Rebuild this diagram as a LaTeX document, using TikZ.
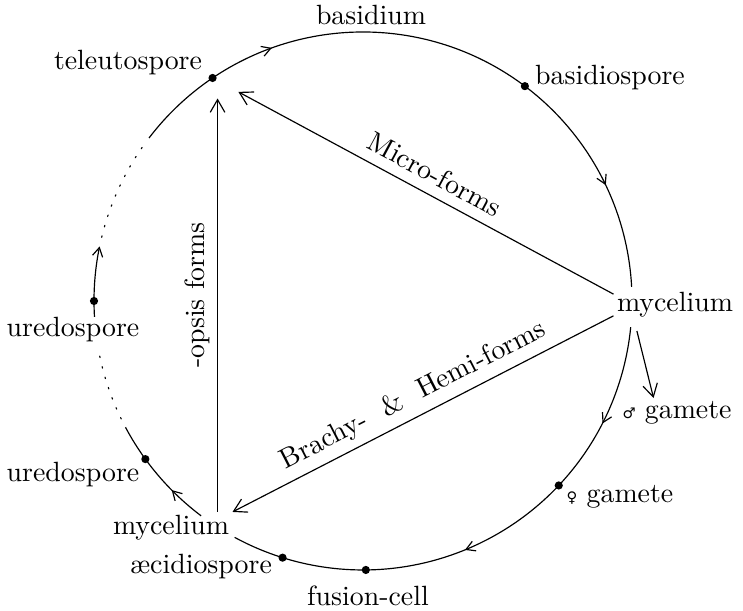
\documentclass[tikz,border=0pt]{standalone}
\usepackage{fontspec}
\newfontfamily\gsymfont{DejaVu Sans}
\usetikzlibrary{calc}
\usetikzlibrary{arrows.meta}
\usetikzlibrary{decorations.markings}

\begin{document}
\begin{tikzpicture}[x=0.012cm, y=0.012cm, inner sep=1pt, >={Straight Barb[angle=60:3.5pt]}, font=\fontsize{9.5}{11}\selectfont]
\tikzset{dot/.style={circle,fill=#1,inner sep=0,minimum size=2.8pt}}
\tikzset{midarrow/.style={postaction={decorate},decoration={markings,mark=at position #1 with {\arrow{>}}}}}
\tikzset{sparse/.style={dash pattern=on 0.5pt off 3.2pt,line cap=round}}
\tikzset{chord/.style={->,>={Straight Barb[angle=60:5pt]}}}

\useasboundingbox (0,0) rectangle (743,611);

% points on the cycle
\coordinate (c) at (363,310);
\coordinate (tel) at ($(c)+(124:269)$);
\coordinate (bas) at ($(c)+(53:269)$);
\coordinate (myRa) at ($(c)+(3:269)$);
\coordinate (myRb) at ($(c)+(-5.6:269)$);
\coordinate (fgam) at ($(c)+(-43.3:269)$);
\coordinate (fus) at ($(c)+(-89.4:269)$);
\coordinate (aec) at ($(c)+(-107.4:269)$);
\coordinate (myLb) at ($(c)+(233:269)$);
\coordinate (ureB) at ($(c)+(216:269)$);
\coordinate (ureA) at ($(c)+(180:269)$);

% the arcs, clockwise
\draw[midarrow=0.2] (tel) arc[start angle=124, end angle=53, radius=269];
\draw[midarrow=0.55] (bas) arc[start angle=53, end angle=3, radius=269];
\draw[midarrow=0.57] (myRb) arc[start angle=-5.6, end angle=-43.3, radius=269];
\draw[midarrow=0.53] (fgam) arc[start angle=-43.3, end angle=-89.4, radius=269];
\draw (fus) arc[start angle=-89.4, end angle=-118.5, radius=269];
\draw[midarrow=0.49] (myLb) arc[start angle=233, end angle=216, radius=269];
\draw (ureB) arc[start angle=216, end angle=208, radius=269];
\draw[sparse] ($(c)+(206:269)$) arc[start angle=206, end angle=190.5, radius=269];
\draw ($(c)+(183.4:269)$) arc[start angle=183.4, end angle=180, radius=269];
\draw[->] (ureA) arc[start angle=180, end angle=168.3, radius=269];
\draw[sparse] ($(c)+(166.3:269)$) arc[start angle=166.3, end angle=145, radius=269];
\draw (tel) arc[start angle=124, end angle=142.7, radius=269];

\node[dot=black] (dtel) at (tel) {};
\node[dot=black] (dbas) at (bas) {};
\node[dot=black] (dfgam) at (fgam) {};
\node[dot=black] (dfus) at (fus) {};
\node[dot=black] (daec) at (aec) {};
\node[dot=black] (dureA) at (ureA) {};
\node[dot=black] (dureB) at (ureB) {};

% labels
\node (ltel) at (128,548) {teleutospore};
\node (lbsd) at (371,596) {basidium};
\node (lbas) at (610,533) {basidiospore};
\node (myR) at (675,306) {mycelium};
\node (mgam) at (677,198) {{\gsymfont\tiny ♂} gamete};
\node (lfgam) at (620,114) {{\gsymfont\tiny ♀} gamete};
\node (lfus) at (368,15) {fusion-cell};
\node (laec) at (201,44) {æcidiospore};
\node (myL) at (171,83) {mycelium};
\node (lureA) at (73,281) {uredospore};
\node (lureB) at (73,136) {uredospore};

% short cuts across
\draw[chord, shorten >=10pt] (myR.170) -- (tel) node[pos=0.47, above=2.5pt, sloped] {Micro-forms};
\draw[chord] (myR.190) -- (myL.north east) node[midway, above=1.5pt, sloped] {Brachy-\ \ \& \ Hemi-forms};
\draw[chord, shorten >=7pt] ([xshift=1.7pt]myL.north -| tel) -- ([xshift=1.7pt]tel) node[midway, above=1.5pt, sloped] {-opsis forms};
\draw[chord] ([xshift=-13pt,yshift=-3.4pt]myR.south) -- ([xshift=-8pt]mgam.north);

\end{tikzpicture}
\end{document}
